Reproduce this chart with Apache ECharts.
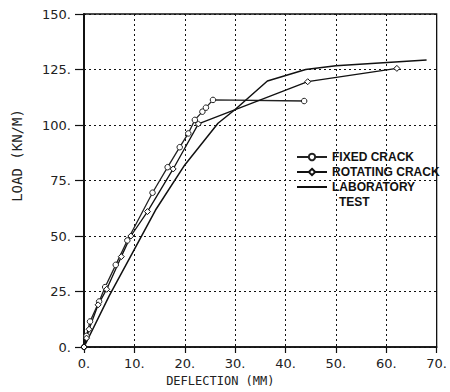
<!DOCTYPE html>
<html>
<head>
<meta charset="utf-8">
<script src="https://cdn.jsdelivr.net/npm/echarts@6/dist/echarts.min.js"></script>
<style>html,body{margin:0;padding:0;background:#fff;}#c{width:450px;height:392px;}</style>
</head>
<body>
<div id="c"></div>
<script>
// Data
var xTicks = [0, 10, 20, 30, 40, 50, 60, 70];
var yTicks = [0, 25, 50, 75, 100, 125, 150];

var fixedX = [0, 0.5, 1.2, 3.0, 4.2, 6.3, 8.6, 13.6, 16.6, 19.0, 20.7, 22.0, 23.5, 24.2, 25.6, 43.7];
var fixedY = [0, 5, 11.5, 20.5, 27, 37, 48, 69.5, 81, 90, 96.2, 102.3, 106, 107.8, 111.3, 110.8];

var rotX = [0, 0.5, 1.0, 2.8, 4.5, 7.4, 9.3, 12.6, 17.7, 22.7, 44.4, 62.1];
var rotY = [0, 4, 8, 19, 26, 40.7, 50, 61, 80.2, 100.5, 119.5, 125.5];

var labX = [0, 5, 10, 14.2, 20, 26.6, 30, 36.4, 44, 50, 68];
var labY = [0, 23, 44, 61.7, 82, 100.8, 107, 119.8, 125, 126.7, 129.3];

var seriesNames = ['FIXED CRACK', 'ROTATING CRACK', 'LABORATORY TEST'];

function pairs(xs, ys) { return xs.map(function (x, i) { return [x, ys[i]]; }); }

var chart = echarts.init(document.getElementById('c'), null, {renderer: 'svg'});
var gridCol = '#111';
var option = {
  animation: false,
  backgroundColor: '#fff',
  grid: {left: 84, right: 8, top: 14, bottom: 45, show: true, borderColor: '#111', borderWidth: 1.3},
  xAxis: {
    type: 'value', min: 0, max: 70, interval: 10,
    name: 'DEFLECTION (MM)', nameLocation: 'middle', nameGap: 26,
    nameTextStyle: {fontFamily: 'DejaVu Sans Mono', fontSize: 12, color: '#222', padding: [0, 80, 0, 0]},
    axisLine: {show: true, lineStyle: {color: '#111', width: 1.6}},
    axisTick: {show: true, length: 6, lineStyle: {color: '#111', width: 1.2}},
    axisLabel: {margin: 10, fontFamily: 'DejaVu Sans', fontSize: 13, color: '#222', formatter: function (v) { return v + '.'; }},
    splitLine: {show: true, lineStyle: {color: gridCol, width: 1, type: [2, 3]}}
  },
  yAxis: {
    type: 'value', min: 0, max: 150, interval: 25,
    name: 'LOAD (KN/M)', nameLocation: 'middle', nameGap: 60,
    nameTextStyle: {fontFamily: 'DejaVu Sans Mono', fontSize: 14, color: '#222', padding: [0, 0, 0, 50]},
    axisLine: {show: true, lineStyle: {color: '#111', width: 2}},
    axisTick: {show: true, length: 9, lineStyle: {color: '#111', width: 1.2}},
    axisLabel: {margin: 13, fontFamily: 'DejaVu Sans', fontSize: 13, color: '#222', formatter: function (v) { return v + '.'; }},
    splitLine: {show: true, lineStyle: {color: gridCol, width: 1, type: [2, 3]}}
  },
  legend: {
    orient: 'vertical', left: 291, top: 146,
    itemWidth: 30, itemHeight: 8, itemGap: 3,
    data: [
      {name: seriesNames[0]},
      {name: seriesNames[1]},
      {name: seriesNames[2], itemStyle: {opacity: 0}}
    ],
    formatter: function (n) { return n === 'LABORATORY TEST' ? 'LABORATORY' : n; },
    textStyle: {fontFamily: 'Liberation Sans', fontWeight: 'bold', fontSize: 12, color: '#111'}
  },
  graphic: [{
    type: 'text', left: 339, top: 196,
    style: {text: 'TEST', font: 'bold 12px "Liberation Sans"', fill: '#111'}
  }],
  series: [
    {name: seriesNames[0], type: 'line', data: pairs(fixedX, fixedY),
     symbol: 'circle', symbolSize: 5.5, showSymbol: true,
     lineStyle: {color: '#222', width: 1.3},
     itemStyle: {color: '#fff', borderColor: '#222', borderWidth: 1}},
    {name: seriesNames[1], type: 'line', data: pairs(rotX, rotY),
     symbol: 'diamond', symbolSize: 6, showSymbol: true,
     lineStyle: {color: '#111', width: 1.3},
     itemStyle: {color: '#fff', borderColor: '#111', borderWidth: 1}},
    {name: seriesNames[2], type: 'line', data: pairs(labX, labY),
     symbol: 'none',
     lineStyle: {color: '#111', width: 1.5},
     itemStyle: {color: '#111'}}
  ]
};
chart.setOption(option);
</script>
</body>
</html>
